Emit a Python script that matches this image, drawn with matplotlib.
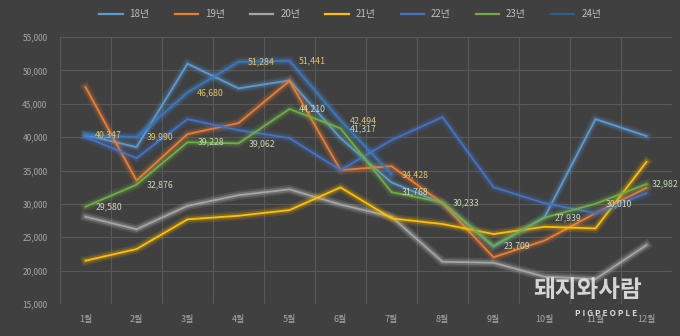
import matplotlib
matplotlib.use("Agg")
import matplotlib.pyplot as plt
import matplotlib.patheffects as pe
from matplotlib.lines import Line2D
import numpy as np

plt.rcParams['font.family'] = ['Noto Sans CJK KR', 'DejaVu Sans']

months = ['1월', '2월', '3월', '4월', '5월', '6월', '7월', '8월', '9월', '10월', '11월', '12월']
series_names = ['18년', '19년', '20년', '21년', '22년', '23년', '24년']

y18 = [40300, 38500, 51000, 47300, 48500, 39850, 33200, 30100, 23600, 28000, 42700, 40150]
y19 = [47500, 33500, 40450, 42100, 48430, 35060, 35650, 30100, 22000, 24500, 28600, 32400]
y20 = [28070, 26200, 29700, 31300, 32170, 29900, 28070, 21330, 21180, 19090, 18740, 23830]
y21 = [21490, 23230, 27680, 28220, 29070, 32470, 27830, 26980, 25480, 26570, 26320, 36300]
y22 = [40000, 36850, 42700, 41050, 39850, 35060, 39550, 43000, 32500, 30100, 28600, 31600]
y23 = [29580, 32876, 39228, 39062, 44210, 41317, 31768, 30233, 23709, 27939, 30010, 32982]
y24 = [40347, 39990, 46680, 51284, 51441, 42494, 34428]

data = [y18, y19, y20, y21, y22, y23, y24]
line_colors = ['#5B9BD5', '#ED7D31', '#A5A5A5', '#FFC000', '#4472C4', '#70AD47', '#3579C2']
legend_colors = ['#5B9BD5', '#ED7D31', '#A5A5A5', '#FFC000', '#4472C4', '#70AD47', '#2A5F8F']
glow_colors = ['#5B9BD5', '#ED7D31', '#D9D9D9', '#FFC000', '#4472C4', '#70AD47', '#4A90E2']

bg = '#404040'
fig = plt.figure(figsize=(6.8, 3.36), dpi=100, facecolor=bg)
ax = fig.add_axes([60/680, 32/336, 612/680, 267/336], facecolor=bg)

x_all = np.arange(len(months))
for vals, c, g in zip(data, line_colors, glow_colors):
    xs = x_all[:len(vals)]
    ax.plot(xs, vals, color=c, lw=1.3, zorder=3, solid_joinstyle='miter',
            path_effects=[pe.Stroke(linewidth=6.5, foreground=g, alpha=0.12),
                          pe.Stroke(linewidth=3.8, foreground=g, alpha=0.22),
                          pe.Normal()])

# data labels
for i, v in enumerate(y24):
    ax.annotate(f'{v:,}', (i, v), xytext=(7, 0), textcoords='offset points',
                ha='left', va='center', fontsize=6.3, color='#E3C463', zorder=5)
for i, v in enumerate(y23):
    off = 3.5 if i == len(y23) - 1 else 7
    ax.annotate(f'{v:,}', (i, v), xytext=(off, 0), textcoords='offset points',
                ha='left', va='center', fontsize=6.3, color='#C9D8B6', zorder=5,
                annotation_clip=False)

ax.set_xlim(-0.5, len(months) - 0.5)
ax.set_ylim(15000, 55000)
ax.set_yticks(np.arange(15000, 55001, 5000))
ax.set_yticklabels([f'{v:,}' for v in range(15000, 55001, 5000)])
ax.set_xticks(x_all)
ax.set_xticklabels(months)
ax.set_xticks(np.arange(-0.5, len(months), 1), minor=True)
ax.grid(True, which='major', axis='y', color='#595959', lw=0.8)
ax.grid(True, which='minor', axis='x', color='#595959', lw=0.8)
ax.tick_params(which='both', length=0)
ax.tick_params(axis='y', colors='#A6A6A6', labelsize=6, pad=9)
ax.tick_params(axis='x', colors='#A6A6A6', labelsize=6.5, pad=8)
for s in ax.spines.values():
    s.set_visible(False)

handles = [Line2D([0], [0], color=c, lw=1.6) for c in legend_colors]
fig.legend(handles, series_names, loc='center', bbox_to_anchor=(0.515, 0.958),
           ncol=7, frameon=False, fontsize=7, labelcolor='#BFBFBF',
           handlelength=2.4, handletextpad=0.7, columnspacing=2.6)

# watermark
fig.text(588/680, 1 - 290/336, '돼지와사람', ha='center', va='center', fontsize=17,
         fontweight='bold', color='#E6E6E6', alpha=0.9, zorder=10)
fig.text(606/680, 1 - 313/336, 'P I G P E O P L E', ha='center', va='center',
         fontsize=6, fontweight='bold', color='#E6E6E6', alpha=0.9, zorder=10)

fig.savefig('out.png', dpi=100, facecolor=bg)
